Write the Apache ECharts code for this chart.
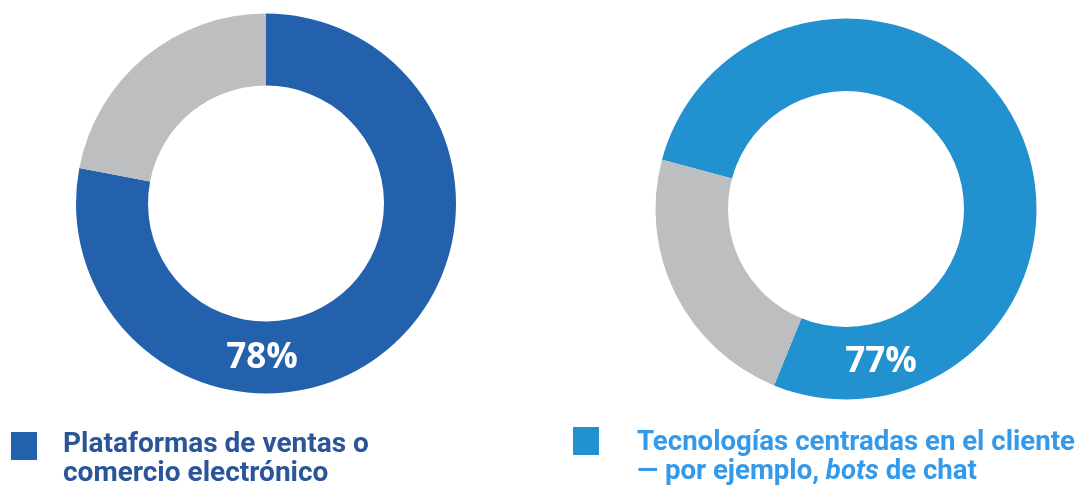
<!DOCTYPE html>
<html>
<head>
<meta charset="utf-8">
<script src="https://cdn.jsdelivr.net/npm/echarts@6/dist/echarts.min.js"></script>
<style>
html,body{margin:0;padding:0;background:#fff;}
#c{width:1081px;height:488px;}
</style>
</head>
<body>
<div id="c"></div>
<script>
// ---- data ----
const categories = [
  'Plataformas de ventas o comercio electrónico',
  'Tecnologías centradas en el cliente — por ejemplo, bots de chat'
];
const yesValues = [78, 77];
const restValues = [22, 23];
const restName = 'Resto';
const labelLines = [
  ['{b|Plataformas de ventas o}', '{b|comercio electrónico}'],
  ['{b|Tecnologías centradas en el cliente}', '{b|— por ejemplo, }{i|bots}{b| de chat}']
];

// ---- styles ----
const mainColors = ['#2361ad', '#2291d0'];
const textColors = ['#2a5699', '#3399ea'];
const grey = '#bdbec0';
const centers = [[266, 203.5], [846, 209]];
const radii = [[118, 190], [118, 190.5]];
const startAngles = [90, 165];
const pctPos = [[262, 358], [881, 362]];
const squares = [[11, 432], [573, 427]];
const textPos = [[63, 430], [637, 429]];
const textSizes = [28, 27.6];

const series = categories.map((name, i) => ({
  type: 'pie',
  center: centers[i],
  radius: radii[i],
  startAngle: startAngles[i],
  clockwise: true,
  silent: true,
  z: 2,
  label: {show: false},
  labelLine: {show: false},
  itemStyle: {borderWidth: 0},
  data: [
    {name: name, value: yesValues[i], itemStyle: {color: mainColors[i]}},
    {name: restName + i, value: restValues[i], itemStyle: {color: grey}}
  ]
}));

const graphic = [];
categories.forEach((name, i) => {
  graphic.push({
    type: 'text',
    x: pctPos[i][0], y: pctPos[i][1],
    z: 100,
    style: {
      text: yesValues[i] + '%',
      align: 'center', verticalAlign: 'middle',
      fill: '#fff', font: 'bold 35px "Open Sans"'
    }
  });
  graphic.push({
    type: 'rect',
    z: 100,
    shape: {x: squares[i][0], y: squares[i][1], width: 26, height: 28},
    style: {fill: mainColors[i]}
  });
  const fs = textSizes[i];
  graphic.push({
    type: 'text',
    z: 100,
    x: textPos[i][0], y: textPos[i][1],
    style: {
      text: labelLines[i].join('\n'),
      verticalAlign: 'top', align: 'left',
      rich: {
        b: {fontFamily: 'Roboto', fontWeight: 'bold', fontSize: fs, lineHeight: 29, fill: textColors[i], color: textColors[i]},
        i: {fontFamily: 'Roboto', fontWeight: 'bold', fontStyle: 'italic', fontSize: fs, lineHeight: 29, fill: textColors[i], color: textColors[i]}
      }
    }
  });
});

const chart = echarts.init(document.getElementById('c'), null, {renderer: 'canvas'});
chart.setOption({
  animation: false,
  backgroundColor: '#fff',
  series: series,
  graphic: {elements: graphic}
});
</script>
</body>
</html>
